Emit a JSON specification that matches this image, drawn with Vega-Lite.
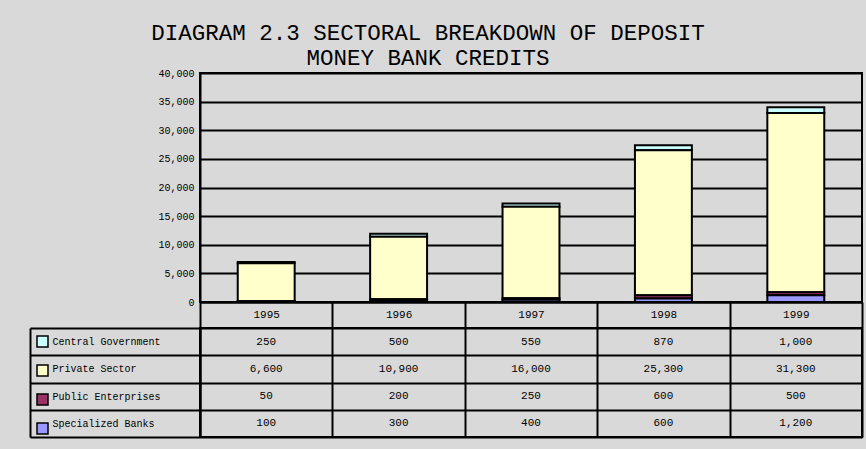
{
  "$schema": "https://vega.github.io/schema/vega-lite/v6.json",
  "background": "#D9D9D9",
  "padding": {"left": 28, "top": 21, "right": 3, "bottom": 10},
  "config": {
    "view": {"stroke": "black", "strokeWidth": 2},
    "font": "Liberation Mono"
  },
  "title": {
    "text": ["DIAGRAM 2.3 SECTORAL BREAKDOWN OF DEPOSIT", "MONEY BANK CREDITS"],
    "font": "Liberation Mono",
    "fontSize": 22.5,
    "fontWeight": "normal",
    "color": "black",
    "anchor": "middle",
    "dx": -18,
    "lineHeight": 25,
    "offset": -2
  },
  "data": {
    "values": [
      {"year": "1995", "series": "Central Government", "value": 250},
      {"year": "1995", "series": "Private Sector", "value": 6600},
      {"year": "1995", "series": "Public Enterprises", "value": 50},
      {"year": "1995", "series": "Specialized Banks", "value": 100},
      {"year": "1996", "series": "Central Government", "value": 500},
      {"year": "1996", "series": "Private Sector", "value": 10900},
      {"year": "1996", "series": "Public Enterprises", "value": 200},
      {"year": "1996", "series": "Specialized Banks", "value": 300},
      {"year": "1997", "series": "Central Government", "value": 550},
      {"year": "1997", "series": "Private Sector", "value": 16000},
      {"year": "1997", "series": "Public Enterprises", "value": 250},
      {"year": "1997", "series": "Specialized Banks", "value": 400},
      {"year": "1998", "series": "Central Government", "value": 870},
      {"year": "1998", "series": "Private Sector", "value": 25300},
      {"year": "1998", "series": "Public Enterprises", "value": 600},
      {"year": "1998", "series": "Specialized Banks", "value": 600},
      {"year": "1999", "series": "Central Government", "value": 1000},
      {"year": "1999", "series": "Private Sector", "value": 31300},
      {"year": "1999", "series": "Public Enterprises", "value": 500},
      {"year": "1999", "series": "Specialized Banks", "value": 1200}
    ]
  },
  "bounds": "flush",
  "spacing": 26,
  "vconcat": [
    {
      "width": 662,
      "height": 229,
      "mark": {"type": "bar", "stroke": "black", "strokeWidth": 2, "width": {"band": 0.43}},
      "encoding": {
        "x": {
          "field": "year",
          "type": "nominal",
          "scale": {"paddingInner": 0, "paddingOuter": 0},
          "axis": {
            "title": null,
            "labelAngle": 0,
            "labelFont": "Liberation Mono",
            "labelFontSize": 11,
            "labelColor": "black",
            "labelPadding": -20,
            "ticks": true,
            "tickBand": "extent",
            "tickSize": 26,
            "tickColor": "black",
            "tickWidth": 2,
            "domainColor": "black",
            "domainWidth": 2,
            "grid": false
          }
        },
        "y": {
          "field": "value",
          "type": "quantitative",
          "stack": "zero",
          "scale": {"domain": [0, 40000]},
          "axis": {
            "title": null,
            "values": [0, 5000, 10000, 15000, 20000, 25000, 30000, 35000, 40000],
            "format": ",d",
            "labelFont": "Liberation Mono",
            "labelFontSize": 10,
            "labelColor": "black",
            "ticks": false,
            "labelPadding": 6,
            "grid": true,
            "gridColor": "black",
            "gridWidth": 2,
            "gridOpacity": 1,
            "domainColor": "black",
            "domainWidth": 2
          }
        },
        "color": {
          "field": "series",
          "type": "nominal",
          "scale": {
            "domain": ["Central Government", "Private Sector", "Public Enterprises", "Specialized Banks"],
            "range": ["#CCFFFF", "#FFFFCC", "#993366", "#9999FF"]
          },
          "legend": {
            "orient": "none",
            "legendX": -164,
            "legendY": 262,
            "title": null,
            "symbolType": "square",
            "symbolSize": 121,
            "symbolStrokeColor": "black",
            "symbolStrokeWidth": 1.5,
            "symbolOpacity": 1,
            "labelExpr": "''",
            "rowPadding": 12,
            "padding": 0
          }
        }
      }
    },
    {
      "width": 662,
      "height": 109,
      "layer": [
        {
          "mark": {"type": "text", "font": "Liberation Mono", "fontSize": 11, "color": "black"},
          "encoding": {
            "x": {
              "field": "year",
              "type": "nominal",
              "scale": {"paddingInner": 0, "paddingOuter": 0},
              "axis": {
                "title": null,
                "labels": false,
                "ticks": false,
                "domain": false,
                "grid": true,
                "tickBand": "extent",
                "gridColor": "black",
                "gridWidth": 2,
                "gridOpacity": 1
              }
            },
            "y": {
              "field": "series",
              "type": "nominal",
              "scale": {
                "domain": ["Central Government", "Private Sector", "Public Enterprises", "Specialized Banks"],
                "paddingInner": 0,
                "paddingOuter": 0
              },
              "axis": {
                "title": null,
                "labelFont": "Liberation Mono",
                "labelFontSize": 10,
                "labelColor": "black",
                "labelAlign": "left",
                "labelPadding": -22,
                "labelLimit": 150,
                "ticks": true,
                "tickBand": "extent",
                "tickSize": 170,
                "tickColor": "black",
                "tickWidth": 2,
                "grid": true,
                "gridColor": "black",
                "gridWidth": 2,
                "gridOpacity": 1,
                "domainColor": "black",
                "domainWidth": 2
              }
            },
            "text": {"field": "value", "type": "quantitative", "format": ","}
          }
        },
        {
          "mark": {"type": "point", "opacity": 0},
          "encoding": {
            "x": {"field": "year", "type": "nominal"},
            "y": {
              "field": "series",
              "type": "nominal",
              "scale": {
                "domain": ["Central Government", "Private Sector", "Public Enterprises", "Specialized Banks"],
                "paddingInner": 0,
                "paddingOuter": 0
              },
              "axis": {
                "orient": "left",
                "offset": 170,
                "title": null,
                "labels": false,
                "ticks": false,
                "grid": false,
                "domainColor": "black",
                "domainWidth": 2
              }
            }
          }
        }
      ],
      "resolve": {"scale": {"y": "independent"}, "axis": {"y": "independent"}}
    }
  ]
}
